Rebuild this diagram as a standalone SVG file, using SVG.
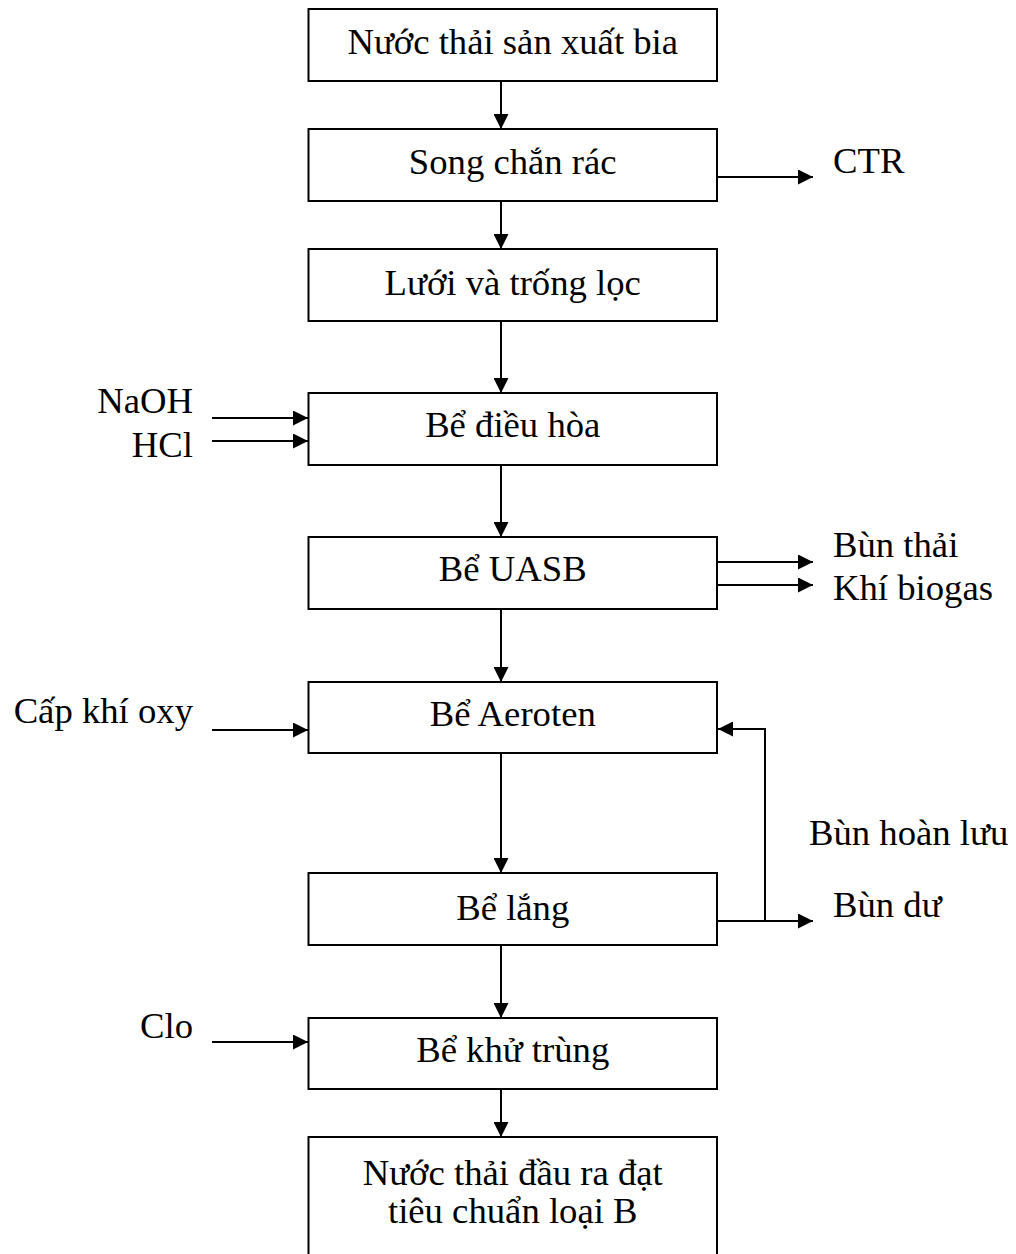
<svg xmlns="http://www.w3.org/2000/svg" width="1016" height="1254" viewBox="0 0 1016 1254">
<style>
.box{fill:#fff;stroke:#000;stroke-width:2}
.t{font-family:"Liberation Serif","Times New Roman",serif;font-size:36.7px;fill:#000}
.c{text-anchor:middle}
.e{text-anchor:end}
.ln{fill:none;stroke:#000;stroke-width:2}
</style>
<defs>
<marker id="arr" viewBox="0 0 15 15" refX="15" refY="7.5" markerWidth="15" markerHeight="15" markerUnits="userSpaceOnUse" orient="auto">
<path d="M0,0 L15,7.5 L0,15 Z" fill="#000"/>
</marker>
</defs>
<rect width="1016" height="1254" fill="#fff"/>
<g id="connectors">
<line class="ln" x1="501" y1="81" x2="501" y2="129" marker-end="url(#arr)"/>
<line class="ln" x1="501" y1="201" x2="501" y2="249" marker-end="url(#arr)"/>
<line class="ln" x1="501" y1="321" x2="501" y2="393" marker-end="url(#arr)"/>
<line class="ln" x1="501" y1="465" x2="501" y2="537" marker-end="url(#arr)"/>
<line class="ln" x1="501" y1="609" x2="501" y2="682" marker-end="url(#arr)"/>
<line class="ln" x1="501" y1="753" x2="501" y2="873" marker-end="url(#arr)"/>
<line class="ln" x1="501" y1="945" x2="501" y2="1018" marker-end="url(#arr)"/>
<line class="ln" x1="501" y1="1089" x2="501" y2="1137" marker-end="url(#arr)"/>
<line class="ln" x1="717" y1="177" x2="813" y2="177" marker-end="url(#arr)"/>
<line class="ln" x1="212" y1="418" x2="308" y2="418" marker-end="url(#arr)"/>
<line class="ln" x1="212" y1="441" x2="308" y2="441" marker-end="url(#arr)"/>
<line class="ln" x1="717" y1="562" x2="813" y2="562" marker-end="url(#arr)"/>
<line class="ln" x1="717" y1="585" x2="813" y2="585" marker-end="url(#arr)"/>
<line class="ln" x1="212" y1="730" x2="308" y2="730" marker-end="url(#arr)"/>
<polyline class="ln" points="765,921 765,729 718,729" marker-end="url(#arr)"/>
<line class="ln" x1="717" y1="921" x2="813" y2="921" marker-end="url(#arr)"/>
<line class="ln" x1="212" y1="1042" x2="308" y2="1042" marker-end="url(#arr)"/>
</g>
<g id="n1"><rect class="box" x="308.5" y="9" width="408.5" height="72"/><text class="t c" x="512.75" y="54">Nước thải sản xuất bia</text></g>
<g id="n2"><rect class="box" x="308.5" y="129" width="408.5" height="72"/><text class="t c" x="512.75" y="174">Song chắn rác</text></g>
<g id="n3"><rect class="box" x="308.5" y="249" width="408.5" height="72"/><text class="t c" x="512.75" y="295">Lưới và trống lọc</text></g>
<g id="n4"><rect class="box" x="308.5" y="393" width="408.5" height="72"/><text class="t c" x="512.75" y="437">Bể điều hòa</text></g>
<g id="n5"><rect class="box" x="308.5" y="537" width="408.5" height="72"/><text class="t c" x="512.75" y="581">Bể UASB</text></g>
<g id="n6"><rect class="box" x="308.5" y="682" width="408.5" height="71"/><text class="t c" x="512.75" y="726">Bể Aeroten</text></g>
<g id="n7"><rect class="box" x="308.5" y="873" width="408.5" height="72"/><text class="t c" x="512.75" y="920">Bể lắng</text></g>
<g id="n8"><rect class="box" x="308.5" y="1018" width="408.5" height="71"/><text class="t c" x="512.75" y="1062">Bể khử trùng</text></g>
<g id="n9"><rect class="box" x="308.5" y="1137" width="408.5" height="130"/><text class="t c" x="512.75" y="1185">Nước thải đầu ra đạt</text><text class="t c" x="512.75" y="1223">tiêu chuẩn loại B</text></g>
<g id="labels">
<text class="t" x="833" y="173">CTR</text>
<text class="t e" x="193" y="413">NaOH</text>
<text class="t e" x="193" y="457">HCl</text>
<text class="t" x="833" y="557">Bùn thải</text>
<text class="t" x="833" y="600">Khí biogas</text>
<text class="t e" x="193" y="723">Cấp khí oxy</text>
<text class="t" x="809" y="845">Bùn hoàn lưu</text>
<text class="t" x="833" y="917">Bùn dư</text>
<text class="t e" x="193" y="1038">Clo</text>
</g>
</svg>
